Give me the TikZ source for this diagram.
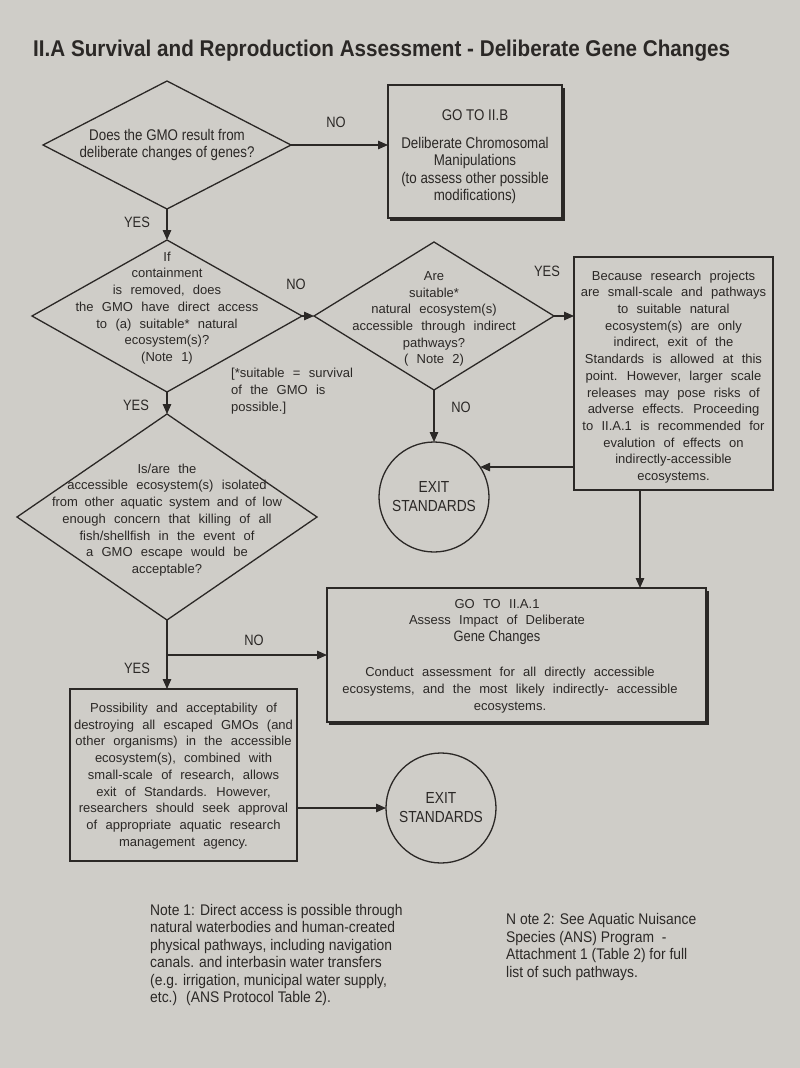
\documentclass[tikz,border=0pt]{standalone}
\usepackage{graphicx}
\usepackage{fontspec}
\setmainfont{Liberation Sans}
\newfontfamily\condf[FakeStretch=0.86]{Liberation Sans}
\newfontfamily\notef[FakeStretch=0.9]{Liberation Sans}
\newfontfamily\bodyf[WordSpace=2.3]{Liberation Sans}
\usetikzlibrary{shapes.geometric,arrows.meta}
\definecolor{paper}{RGB}{207,205,200}
\definecolor{ink}{RGB}{43,40,38}
\tikzset{
  ln/.style={draw=ink, line width=1.3pt},
  arr/.style={ln, -{Triangle[length=10pt,width=8.5pt]}},
  dia/.style={diamond, draw=ink, line width=1.3pt, inner sep=0pt, outer sep=0pt},
  box/.style={rectangle, draw=ink, line width=1.3pt, inner sep=0pt, outer sep=0pt},
  shadowln/.style={draw=ink, line width=3pt},
  exitc/.style={circle, draw=ink, line width=1.3pt, minimum size=110pt, inner sep=0pt, outer sep=0pt, align=center, text=ink, font=\condf\fontsize{16}{19}\selectfont},
  lab/.style={text=ink, inner sep=0pt, font=\condf\fontsize{15}{17}\selectfont},
  bodytext/.style={align=center, text=ink, inner sep=0pt, font=\bodyf\fontsize{13}{16.7}\selectfont},
  ctext/.style={align=center, text=ink, inner sep=0pt, font=\condf\fontsize{15.5}{17.5}\selectfont},
  notetext/.style={align=left, text=ink, inner sep=0pt, font=\notef\fontsize{15.4}{17.4}\selectfont},
}
\begin{document}
\begin{tikzpicture}[x=1pt,y=-1pt]
\fill[paper] (0,0) rectangle (800,1068);
\useasboundingbox (0,0) rectangle (800,1068);

% title
\node[anchor=base west, text=ink, inner sep=0pt] (title) at (33,56)
  {\resizebox{697pt}{16.5pt}{\bfseries II.A Survival and Reproduction Assessment - Deliberate Gene Changes}};

% diamonds
\node[dia, minimum width=248pt, minimum height=128pt] (d1) at (167,145) {};
\node[ctext] (t1) at (d1) {Does the GMO result from\\deliberate changes of genes?};

\node[dia, minimum width=270pt, minimum height=152pt] (d2) at (167,316) {};
\node[bodytext] (t2) at (167,308) {If\\containment\\is removed, does\\the GMO have direct access\\to (a) suitable* natural\\ecosystem(s)?\\(Note 1)};

\node[dia, minimum width=240pt, minimum height=148pt] (d3) at (434,316) {};
\node[bodytext] (t3) at (434,319) {Are\\suitable*\\natural ecosystem(s)\\accessible through indirect\\pathways?\\( Note 2)};

\node[dia, minimum width=300pt, minimum height=206pt] (d4) at (167,517) {};
\node[bodytext] (t4) at (167,520) {Is/are the\\accessible ecosystem(s) isolated\\\makebox[230pt][s]{from other aquatic system and of low}\\enough concern that killing of all\\fish/shellfish in the event of\\a GMO escape would be\\acceptable?};

% boxes
\node[box, minimum width=174pt, minimum height=133pt] (bB) at (475,151.5) {};
\draw[shadowln] ([shift={(1,3)}]bB.north east) -- ([shift={(1,1)}]bB.south east) -- ([shift={(2,1)}]bB.south west);
\node[ctext] (tB) at (475,157) {GO TO II.B\\[10pt]Deliberate Chromosomal\\Manipulations\\(to assess other possible\\modifications)};

\node[box, minimum width=199pt, minimum height=233pt] (bC) at (673.5,373.5) {};
\node[bodytext] (tC) at (673.5,377) {Because research projects\\are small-scale and pathways\\to suitable natural\\ecosystem(s) are only\\indirect, exit of the\\Standards is allowed at this\\point. However, larger scale\\releases may pose risks of\\adverse effects. Proceeding\\to II.A.1 is recommended for\\evalution of effects on\\indirectly-accessible\\ecosystems.};

\node[box, minimum width=379pt, minimum height=134pt] (bD) at (516.5,655) {};
\draw[shadowln] ([shift={(1,3)}]bD.north east) -- ([shift={(1,1)}]bD.south east) -- ([shift={(2,1)}]bD.south west);
\node[bodytext] (tD1) at (497,622) {GO TO II.A.1\\Assess Impact of Deliberate\\{\condf\fontsize{15}{16.7}\selectfont Gene Changes}};
\node[bodytext] (tD2) at (510,690) {Conduct assessment for all directly accessible\\ecosystems, and the most likely indirectly- accessible\\ecosystems.};

\node[box, minimum width=227pt, minimum height=172pt] (bE) at (183.5,775) {};
\node[bodytext] (tE) at (183.5,776) {Possibility and acceptability of\\destroying all escaped GMOs (and\\other organisms) in the accessible\\ecosystem(s), combined with\\small-scale of research, allows\\exit of Standards. However,\\researchers should seek approval\\of appropriate aquatic research\\management agency.};

% exits
\node[exitc] (e1) at (434,497) {EXIT\\STANDARDS};
\node[exitc] (e2) at (441,808) {EXIT\\STANDARDS};

% connectors
\draw[arr] (d1.east) -- (d1.east -| bB.west);
\draw[arr] (d1.south) -- (d2.north);
\draw[arr] (d2.east) -- (d3.west);
\draw[arr] (d3.east) -- (d3.east -| bC.west);
\draw[arr] (d3.south) -- (e1.north);
\draw[arr] (bC.west |- e1.33) -- (e1.33);
\coordinate (c2) at (640,490);
\draw[arr] (c2) -- (c2 |- bD.north);
\draw[arr] (d2.south) -- (d4.north);
\draw[arr] (d4.south) -- (d4.south |- bE.north);
\coordinate (j) at (167,655);
\draw[arr] (j) -- (j -| bD.west);
\draw[arr] (bE.east |- e2.west) -- (e2.west);

% labels
\node[lab] (l1) at (336,122) {NO};
\node[lab] (l2) at (137,222) {YES};
\node[lab] (l3) at (296,284) {NO};
\node[lab] (l4) at (547,271) {YES};
\node[lab] (l5) at (461,407) {NO};
\node[lab] (l6) at (136,405) {YES};
\node[lab] (l7) at (254,640) {NO};
\node[lab] (l8) at (137,668) {YES};

% footnote
\node[bodytext, align=left, anchor=west] (fn) at (231,391) {[*suitable = survival\\of the GMO is\\possible.]};

% notes
\node[notetext, anchor=west] (n1) at (150,955) {Note 1: Direct access is possible through\\natural waterbodies and human-created\\physical pathways, including navigation\\canals. and interbasin water transfers\\(e.g. irrigation, municipal water supply,\\etc.) \ (ANS Protocol Table 2).};
\node[notetext, anchor=west] (n2) at (506,947) {N ote 2: See Aquatic Nuisance\\Species (ANS) Program \ -\\Attachment 1 (Table 2) for full\\list of such pathways.};
\end{tikzpicture}
\end{document}
